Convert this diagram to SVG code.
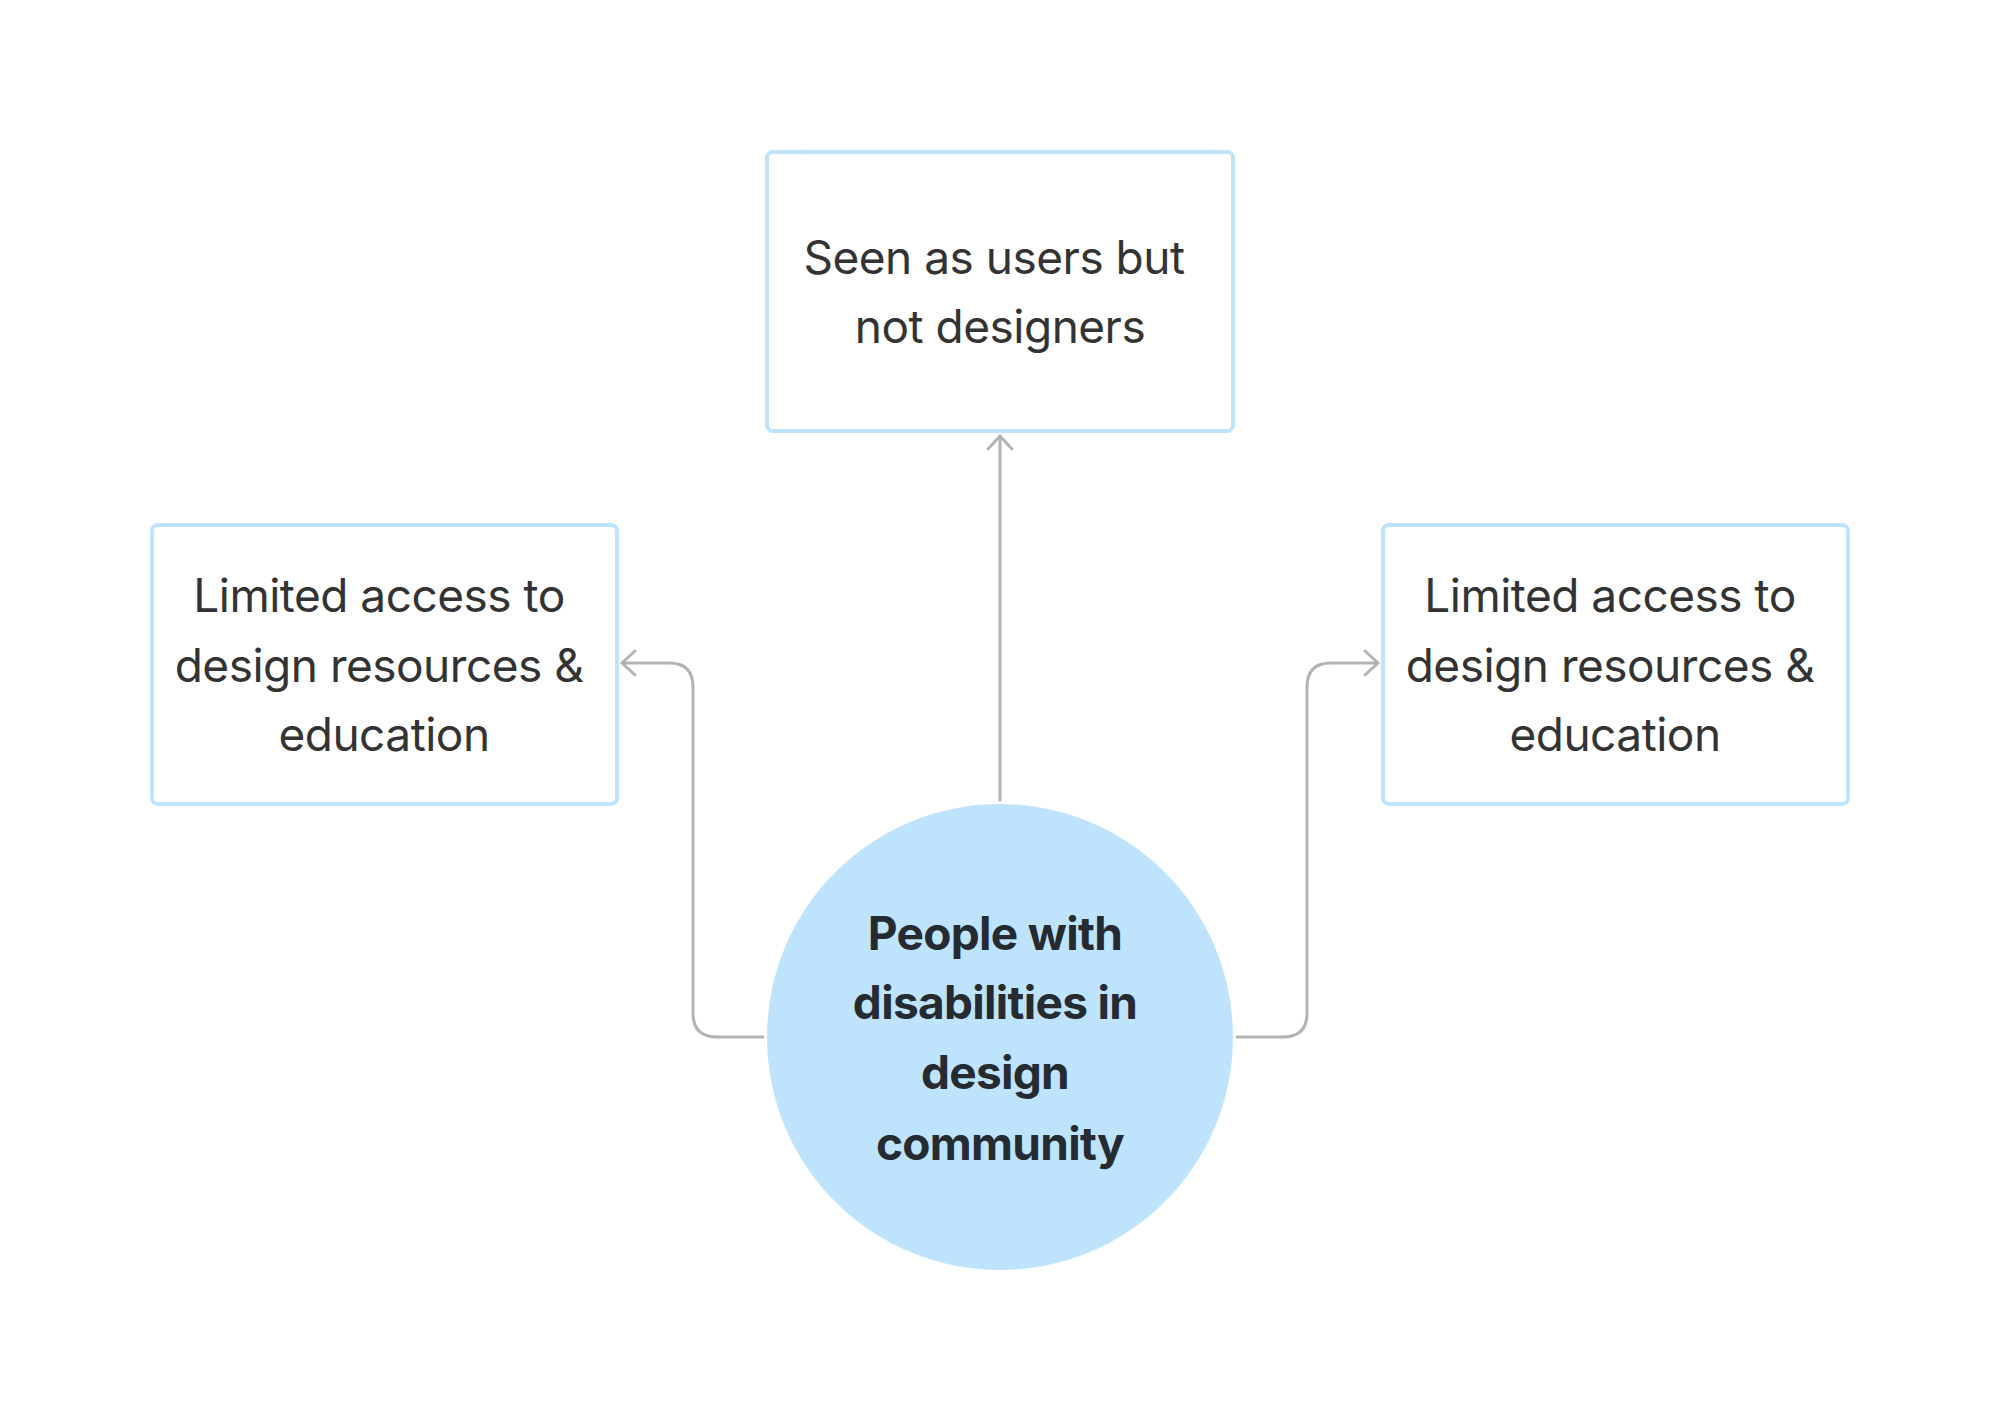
<svg xmlns="http://www.w3.org/2000/svg" width="2000" height="1420" viewBox="0 0 2000 1420">
<style>
.box{fill:#ffffff;stroke:#BEE3FD;stroke-width:4}
.t{font-family:Inter,"Noto Sans","Liberation Sans",sans-serif;font-size:46px;letter-spacing:-0.5px;fill:#333333;text-anchor:middle}
.tb{font-family:Inter,"Noto Sans","Liberation Sans",sans-serif;font-size:46px;font-weight:700;letter-spacing:-0.7px;fill:#262B31;text-anchor:middle}
.c{fill:none;stroke:#B3B3B3;stroke-width:3;stroke-linecap:round;stroke-linejoin:round}
</style>
<defs>
<marker id="arr" markerUnits="userSpaceOnUse" markerWidth="30" markerHeight="30" viewBox="-16 -15 20 30" refX="0" refY="0" orient="auto">
<path d="M-13,-12 L0,0 L-13,12" fill="none" stroke="#B3B3B3" stroke-width="3" stroke-linecap="round" stroke-linejoin="round"/>
</marker>
</defs>
<rect width="2000" height="1420" fill="#ffffff"/>
<g id="connectors">
<path class="c" d="M1000,800 L1000,436" marker-end="url(#arr)"/>
<path class="c" d="M763,1037 L717,1037 Q693,1037 693,1013 L693,687 Q693,663 669,663 L622,663" marker-end="url(#arr)"/>
<path class="c" d="M1237,1037 L1283,1037 Q1307,1037 1307,1013 L1307,687 Q1307,663 1331,663 L1378,663" marker-end="url(#arr)"/>
</g>
<g id="node-top">
<rect class="box" x="767" y="152" width="466" height="279" rx="6"/>
<text class="t" x="994" y="274">Seen as users but</text>
<text class="t" x="1000" y="343">not designers</text>
</g>
<g id="node-left">
<rect class="box" x="152" y="525" width="465" height="279" rx="6"/>
<text class="t" x="379" y="612">Limited access to</text>
<text class="t" x="379" y="682">design resources &amp;</text>
<text class="t" x="384" y="751">education</text>
</g>
<g id="node-right">
<rect class="box" x="1383" y="525" width="465" height="279" rx="6"/>
<text class="t" x="1610" y="612">Limited access to</text>
<text class="t" x="1610" y="682">design resources &amp;</text>
<text class="t" x="1615" y="751">education</text>
</g>
<g id="node-center">
<circle cx="1000" cy="1037" r="233" fill="#BEE3FD"/>
<text class="tb" x="995" y="950">People with</text>
<text class="tb" x="995" y="1019">disabilities in</text>
<text class="tb" x="995" y="1089">design</text>
<text class="tb" x="1000" y="1160">community</text>
</g>
</svg>
